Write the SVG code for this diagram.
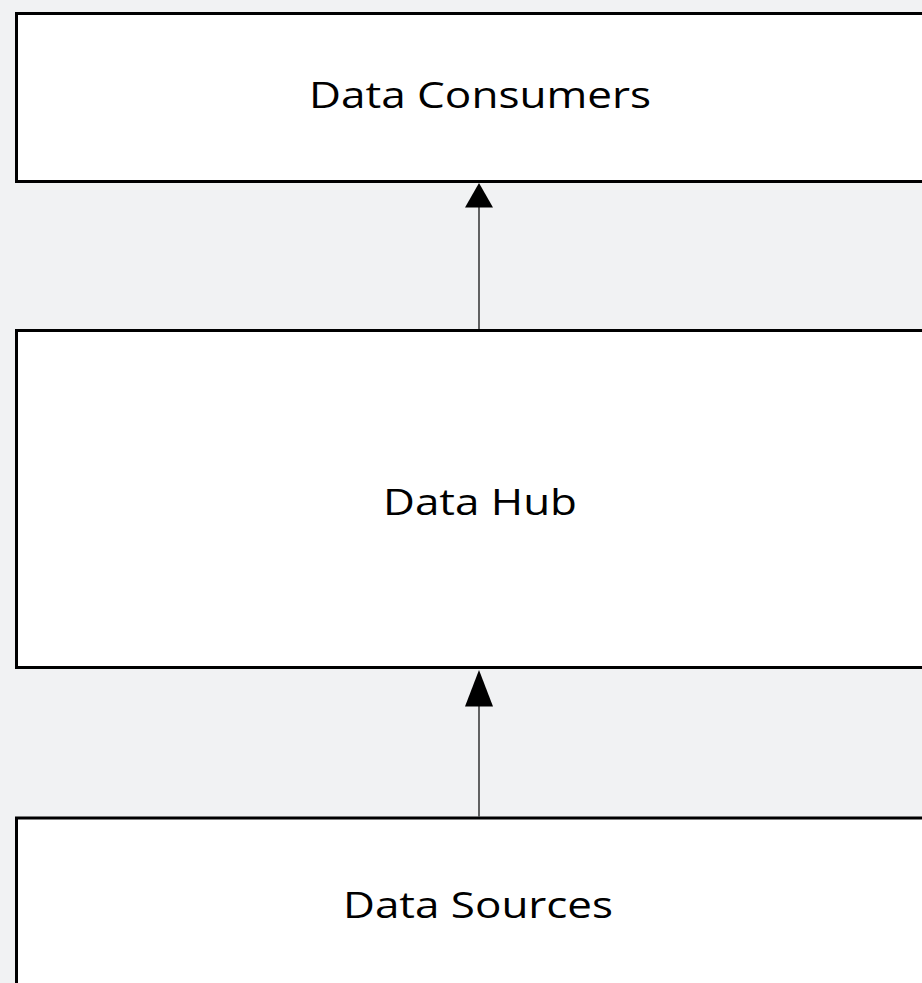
<svg xmlns="http://www.w3.org/2000/svg" width="922" height="983" viewBox="0 0 922 983">
<style>
.box{fill:#ffffff;stroke:#000000;stroke-width:3}
.lbl{font-family:"Open Sans","Noto Sans","Liberation Sans",sans-serif;font-size:37px;fill:#000000;text-anchor:middle}
.conn{stroke:#000000;stroke-width:1.2;fill:none}
.head{fill:#000000}
</style>
<rect x="0" y="0" width="922" height="983" fill="#f1f2f3"/>
<g id="consumers">
<rect class="box" x="16.5" y="13.5" width="920" height="168"/>
<text class="lbl" x="480" y="108" textLength="342" lengthAdjust="spacingAndGlyphs">Data Consumers</text>
</g>
<g id="hub">
<rect class="box" x="16.5" y="330.5" width="920" height="337"/>
<text class="lbl" x="480" y="515" textLength="194" lengthAdjust="spacingAndGlyphs">Data Hub</text>
</g>
<g id="sources">
<rect class="box" x="16.5" y="818" width="920" height="200"/>
<text class="lbl" x="478" y="918" textLength="270" lengthAdjust="spacingAndGlyphs">Data Sources</text>
</g>
<g id="connectors">
<line class="conn" x1="479" y1="329" x2="479" y2="205"/>
<polygon class="head" points="479,183 465,207.5 493,207.5"/>
<line class="conn" x1="479" y1="816.5" x2="479" y2="704"/>
<polygon class="head" points="479,670 465,706.5 493,706.5"/>
</g>
</svg>
